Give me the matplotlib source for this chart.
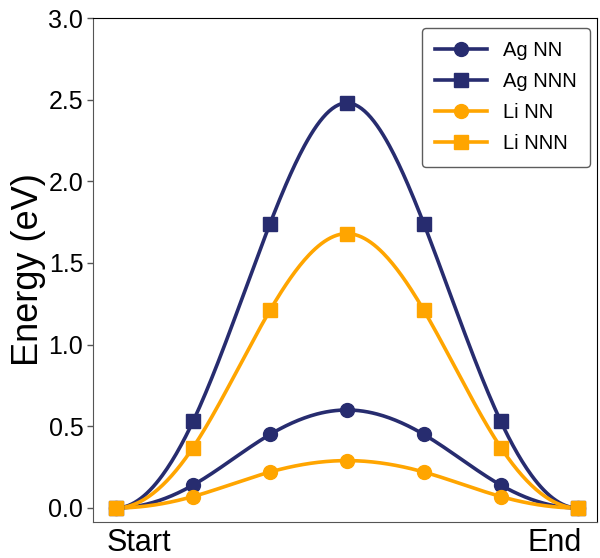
import numpy as np
import matplotlib
matplotlib.use('Agg')
import matplotlib.pyplot as plt
import matplotlib.transforms as mtransforms

plt.rcParams['font.family'] = ['Liberation Sans', 'DejaVu Sans']

# reaction coordinate images (0 = Start, 6 = End)
images = [0, 1, 2, 3, 4, 5, 6]
ag_nn = [0.0, 0.14, 0.45, 0.60, 0.45, 0.14, 0.0]
ag_nnn = [0.0, 0.53, 1.74, 2.48, 1.74, 0.53, 0.0]
li_nn = [0.0, 0.07, 0.22, 0.29, 0.22, 0.07, 0.0]
li_nnn = [0.0, 0.37, 1.21, 1.68, 1.21, 0.37, 0.0]

navy = '#272c6f'
orange = '#ffa500'


def clamped_spline(x, y, num=300):
    # cubic spline with zero slope at both ends, for the smooth line only
    x = np.asarray(x, float)
    y = np.asarray(y, float)
    n = len(x)
    h = np.diff(x)
    A = np.zeros((n, n))
    b = np.zeros(n)
    A[0, 0], A[0, 1] = 2 * h[0], h[0]
    b[0] = 6 * ((y[1] - y[0]) / h[0])
    for i in range(1, n - 1):
        A[i, i - 1] = h[i - 1]
        A[i, i] = 2 * (h[i - 1] + h[i])
        A[i, i + 1] = h[i]
        b[i] = 6 * ((y[i + 1] - y[i]) / h[i] - (y[i] - y[i - 1]) / h[i - 1])
    A[-1, -2], A[-1, -1] = h[-1], 2 * h[-1]
    b[-1] = 6 * (0 - (y[-1] - y[-2]) / h[-1])
    M = np.linalg.solve(A, b)
    xs = np.linspace(x[0], x[-1], num)
    idx = np.clip(np.searchsorted(x, xs) - 1, 0, n - 2)
    x0, x1 = x[idx], x[idx + 1]
    hh = x1 - x0
    ys = (M[idx] * (x1 - xs) ** 3 / (6 * hh) + M[idx + 1] * (xs - x0) ** 3 / (6 * hh)
          + (y[idx] / hh - M[idx] * hh / 6) * (x1 - xs)
          + (y[idx + 1] / hh - M[idx + 1] * hh / 6) * (xs - x0))
    return xs, ys


fig = plt.figure(figsize=(6, 5.58), dpi=100)
ax = fig.add_axes([0.155, 0.0645, 0.84, 0.9032])

series = [
    ('Ag NN', ag_nn, navy, 'o', 10),
    ('Ag NNN', ag_nnn, navy, 's', 10),
    ('Li NN', li_nn, orange, 'o', 10),
    ('Li NNN', li_nnn, orange, 's', 10),
]

for label, vals, col, mk, ms in series:
    xs, ys = clamped_spline(images, vals)
    ax.plot(xs, ys, color=col, lw=2.6, zorder=2)
    ax.plot(images, vals, linestyle='none', marker=mk, ms=ms, color=col,
            markeredgecolor=col, zorder=3)
    # legend proxy
    ax.plot([], [], color=col, lw=2.6, marker=mk, ms=ms, label=label)

ax.set_xlim(-0.3, 6.25)
ax.set_ylim(-0.086, 3.0)
ax.set_xticks([0, 6])
ax.set_xticklabels(['Start', 'End'], fontsize=22)
ax.tick_params(axis='x', length=0, pad=4)
# nudge the two end labels inward like the original
offsets = [23, -23]
for lab, dx in zip(ax.get_xticklabels(), offsets):
    lab.set_transform(lab.get_transform() +
                      mtransforms.ScaledTranslation(dx / 100, 0, fig.dpi_scale_trans))

ax.set_yticks([0.0, 0.5, 1.0, 1.5, 2.0, 2.5, 3.0])
ax.set_yticklabels(['0.0', '0.5', '1.0', '1.5', '2.0', '2.5', '3.0'], fontsize=18)
ax.tick_params(axis='y', length=4, width=1, color='#555555', pad=3)
ax.set_ylabel('Energy (eV)', fontsize=26, labelpad=2)

for side in ['left', 'bottom']:
    ax.spines[side].set_color('#555555')
for side in ['top', 'right']:
    ax.spines[side].set_color('black')

leg = ax.legend(loc='upper right', fontsize=14.5, handlelength=2.6,
                frameon=True, fancybox=True, edgecolor='#333333',
                borderpad=0.65, labelspacing=0.6, borderaxespad=0,
                bbox_to_anchor=(0.986, 0.98))
leg.get_frame().set_linewidth(1.0)

fig.savefig('out.png', dpi=100)
